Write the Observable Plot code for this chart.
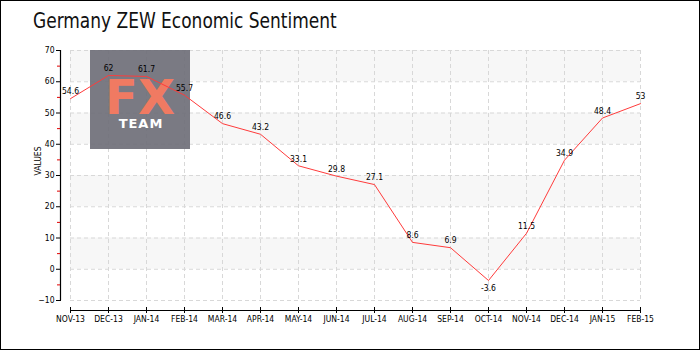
<!DOCTYPE html>
<html>
<head>
<meta charset="utf-8">
<script src="https://cdn.jsdelivr.net/npm/d3@7"></script>
<script src="https://cdn.jsdelivr.net/npm/@observablehq/plot@0.6"></script>
<style>
  html, body { margin: 0; padding: 0; background: #fff; }
  #wrap { position: relative; width: 700px; height: 350px; overflow: hidden; background: #fff; }
  #border { position: absolute; left: 0; top: 0; width: 700px; height: 350px; box-sizing: border-box; border: 1px solid #000; pointer-events: none; }
  #title { position: absolute; left: 33px; top: 9px; font-family: "DejaVu Sans Condensed", "DejaVu Sans", sans-serif; font-size: 21px; color: #111; transform: scaleX(0.9); transform-origin: left top; white-space: nowrap; }
  #chart { position: absolute; left: 0; top: 0; }
</style>
</head>
<body>
<div id="wrap">
  <div id="chart"></div>
  <div id="title">Germany ZEW Economic Sentiment</div>
  <div id="border"></div>
</div>
<script>
const months = ["NOV-13","DEC-13","JAN-14","FEB-14","MAR-14","APR-14","MAY-14","JUN-14","JUL-14","AUG-14","SEP-14","OCT-14","NOV-14","DEC-14","JAN-15","FEB-15"];
const values = [54.6, 62, 61.7, 55.7, 46.6, 43.2, 33.1, 29.8, 27.1, 8.6, 6.9, -3.6, 11.5, 34.9, 48.4, 53];
const yTicks = [-10, 0, 10, 20, 30, 40, 50, 60, 70];
const yMinorTicks = [-5, 5, 15, 25, 35, 45, 55, 65];
const bandStarts = [0, 20, 40, 60];
const bandSize = 10;
const yTitle = "VALUES";

const data = months.map((m, i) => ({month: m, value: values[i]}));

const watermark = () => {
  const g = d3.create("svg:g");
  g.append("rect").attr("x", 90).attr("y", 50).attr("width", 100).attr("height", 99)
    .attr("fill", "#6f6f78").attr("fill-opacity", 0.92);
  g.append("text").attr("x", 140).attr("y", 114).attr("text-anchor", "middle")
    .attr("font-family", "DejaVu Sans, sans-serif").attr("font-weight", "bold")
    .attr("font-size", 48).attr("fill", "#f07a62").text("FX");
  g.append("text").attr("x", 141).attr("y", 128).attr("text-anchor", "middle")
    .attr("font-family", "DejaVu Sans, sans-serif").attr("font-weight", "bold")
    .attr("font-size", 13).attr("letter-spacing", 1).attr("fill", "#ffffff").text("TEAM");
  return g.node();
};

const chart = Plot.plot({
  width: 700,
  height: 350,
  marginTop: 50,
  marginBottom: 50,
  marginLeft: 70,
  marginRight: 60,
  style: {fontFamily: "'DejaVu Sans Condensed', 'DejaVu Sans', sans-serif", fontSize: "8.5px", background: "transparent", color: "#000"},
  x: {type: "point", domain: months, padding: 0, axis: null},
  y: {domain: [-10, 70], axis: null, label: null},
  marks: [
    Plot.rect(bandStarts, {y1: d => d, y2: d => d + bandSize, fill: "#f7f7f7"}),
    Plot.gridY(yTicks, {stroke: "#d8d8d8", strokeOpacity: 1, strokeDasharray: "4,3"}),
    Plot.gridX(months, {stroke: "#d8d8d8", strokeOpacity: 1, strokeDasharray: "4,3"}),
    watermark,
    Plot.line(data, {x: "month", y: "value", stroke: "#ff3b3b", strokeWidth: 1}),
    Plot.text(data.filter(d => d.value >= 0), {x: "month", y: "value", text: d => String(d.value), dy: -7, fill: "#000"}),
    Plot.text(data.filter(d => d.value < 0), {x: "month", y: "value", text: d => String(d.value), dy: 8, fill: "#000"}),
    Plot.ruleY([-10], {dy: 10, stroke: "#000", strokeWidth: 1.2}),
    Plot.ruleX([months[0]], {y1: -10, y2: 70, dx: -10, stroke: "#000", strokeWidth: 1.2}),
    Plot.axisX(months, {anchor: "bottom", dy: 7, tickSize: 6, tickPadding: 2, stroke: "#000", label: null}),
    Plot.axisY(yTicks, {anchor: "left", dx: -9, tickSize: 5, tickPadding: 2, stroke: "#000", label: null}),
    Plot.axisY(yMinorTicks, {anchor: "left", dx: -10, tickSize: 3, stroke: "#e00000", tickFormat: () => "", label: null}),
    Plot.text([yTitle], {frameAnchor: "left", rotate: -90, dx: -32, fontSize: 8.5, fill: "#000"})
  ]
});
document.getElementById("chart").appendChild(chart);
</script>
</body>
</html>
